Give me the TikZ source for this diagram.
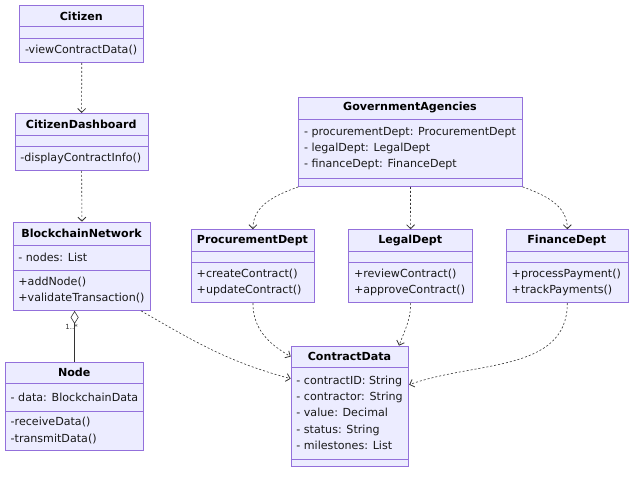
\documentclass[tikz,border=0pt]{standalone}
\usepackage{fontspec}
\setmainfont{DejaVu Sans}
\usetikzlibrary{arrows.meta}
\definecolor{umlfill}{HTML}{ECECFF}
\definecolor{umlborder}{HTML}{9370DB}
\definecolor{umlline}{HTML}{333333}

\begin{document}
\begin{tikzpicture}[x=1pt, y=1pt,
    box/.style={draw=umlborder, fill=umlfill, line width=0.9pt, anchor=north west, inner sep=0pt},
    sep/.style={draw=umlborder, line width=0.9pt},
    ttl/.style={font=\fontsize{11.1}{16.3}\selectfont\bfseries, inner sep=0pt},
    txt/.style={font=\fontsize{11.1}{16.3}\selectfont, anchor=west, align=left, inner sep=0pt, text=black!90},
    dep/.style={draw=umlline, line width=0.6pt, dash pattern=on 2pt off 2pt, -{Straight Barb[length=4pt, width=8pt, line width=0.8pt]}},
    ]
  \useasboundingbox (0,0) rectangle (640,478);

  % Citizen
  \node[box, minimum width=124pt, minimum height=57pt] (citizen) at (19.3,473) {};
  \draw[sep] (19.3,451.7) -- ++(124,0);
  \draw[sep] (19.3,439.7) -- ++(124,0);
  \node[ttl] (citizen-t) at (81.3,462) {Citizen};
  \node[txt] (citizen-m) at (24.8,428) {-viewContractData()};

  % CitizenDashboard
  \node[box, minimum width=133pt, minimum height=57pt] (dashboard) at (14.7,365) {};
  \draw[sep] (14.7,343) -- ++(133,0);
  \draw[sep] (14.7,332) -- ++(133,0);
  \node[ttl] (dashboard-t) at (81.2,354) {CitizenDashboard};
  \node[txt] (dashboard-m) at (20.2,320) {-displayContractInfo()};

  % BlockchainNetwork
  \node[box, minimum width=137.6pt, minimum height=88.3pt] (network) at (12.7,256.3) {};
  \draw[sep] (12.7,233) -- ++(137.6,0);
  \draw[sep] (12.7,207.3) -- ++(137.6,0);
  \node[ttl] (network-t) at (81.5,244.7) {BlockchainNetwork};
  \node[txt] (network-a) at (18.2,220.2) {- nodes: List};
  \node[txt] (network-m) at (18.2,187.7) {+addNode()\\+validateTransaction()};

  % Node
  \node[box, minimum width=138.3pt, minimum height=88.3pt] (chainnode) at (5,116.3) {};
  \draw[sep] (5,94.7) -- ++(138.3,0);
  \draw[sep] (5,67) -- ++(138.3,0);
  \node[ttl] (chainnode-t) at (74.2,105.5) {Node};
  \node[txt] (chainnode-a) at (10.5,81) {- data: BlockchainData};
  \node[txt] (chainnode-m) at (10.5,47.5) {-receiveData()\\-transmitData()};

  % GovernmentAgencies
  \node[box, minimum width=223.4pt, minimum height=89.3pt] (agencies) at (298.3,381.3) {};
  \draw[sep] (298.3,359) -- ++(223.4,0);
  \draw[sep] (298.3,299.7) -- ++(223.4,0);
  \node[ttl] (agencies-t) at (410,370.2) {GovernmentAgencies};
  \node[txt] (agencies-a) at (303.8,329.3) {- procurementDept: ProcurementDept\\- legalDept: LegalDept\\- financeDept: FinanceDept};

  % departments
  \node[box, minimum width=123pt, minimum height=73pt] (procurement) at (191,248.7) {};
  \draw[sep] (191,226.7) -- ++(123,0);
  \draw[sep] (191,215.3) -- ++(123,0);
  \node[ttl] (procurement-t) at (252.5,237.7) {ProcurementDept};
  \node[txt] (procurement-m) at (196.5,195.5) {+createContract()\\+updateContract()};

  \node[box, minimum width=123.7pt, minimum height=73pt] (legal) at (348.3,248.7) {};
  \draw[sep] (348.3,226.7) -- ++(123.7,0);
  \draw[sep] (348.3,215.3) -- ++(123.7,0);
  \node[ttl] (legal-t) at (410.2,237.7) {LegalDept};
  \node[txt] (legal-m) at (353.8,195.5) {+reviewContract()\\+approveContract()};

  \node[box, minimum width=121.7pt, minimum height=73pt] (finance) at (506,248.7) {};
  \draw[sep] (506,226.7) -- ++(121.7,0);
  \draw[sep] (506,215.3) -- ++(121.7,0);
  \node[ttl] (finance-t) at (566.8,237.7) {FinanceDept};
  \node[txt] (finance-m) at (511.5,195.5) {+processPayment()\\+trackPayments()};

  % ContractData
  \node[box, minimum width=117.6pt, minimum height=120.3pt] (contract) at (290.7,132.3) {};
  \draw[sep] (290.7,110.7) -- ++(117.6,0);
  \draw[sep] (290.7,19) -- ++(117.6,0);
  \node[ttl] (contract-t) at (349.5,121.5) {ContractData};
  \node[txt] (contract-a) at (296.2,65.3) {- contractID: String\\- contractor: String\\- value: Decimal\\- status: String\\- milestones: List};

  % relations
  \draw[dep] (citizen.south) -- (dashboard.north);
  \draw[dep] (dashboard.south) -- (network.north);
  \draw[draw=umlline, line width=0.6pt, -{Diamond[open, length=13pt, width=8pt]}] (chainnode.north) -- (chainnode.north |- network.south);
  \node[font=\fontsize{7}{8}\selectfont, anchor=east, text=umlline, inner sep=0pt] (mult) at (78,151) {1..*};
  \draw[dep] (agencies.south west) to[out=200, in=90] (procurement.north);
  \draw[dep] (agencies.south) -- (legal.north);
  \draw[dep] (agencies.south east) to[out=-20, in=90] (finance.north);
  \draw[dep] (network.-37) to[out=-30, in=165] (contract.155);
  \draw[dep] (procurement.south) to[out=-90, in=150] (contract.140);
  \draw[dep] (legal.south) to[out=-90, in=70] (contract.51);
  \draw[dep] (finance.south) to[out=-90, in=20] (contract.20);
\end{tikzpicture}
\end{document}
